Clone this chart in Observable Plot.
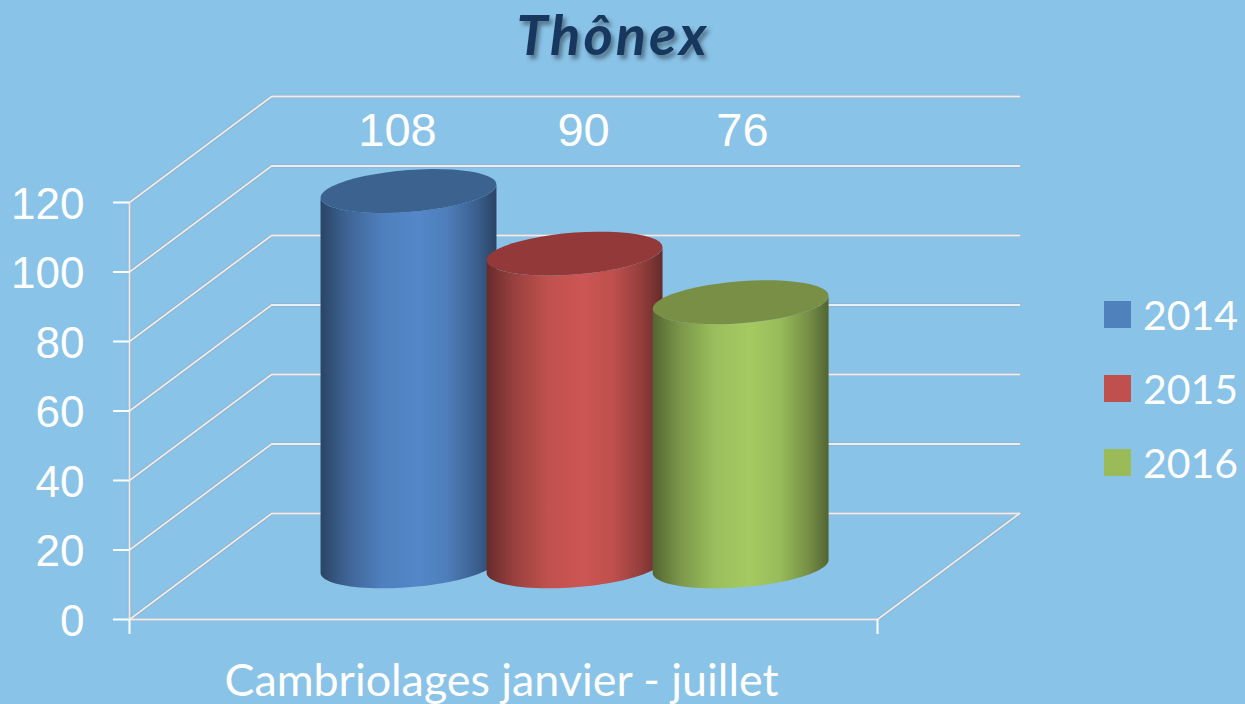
<!DOCTYPE html>
<html lang="fr">
<head>
<meta charset="utf-8">
<title>Thônex</title>
<script src="https://cdn.jsdelivr.net/npm/d3@7"></script>
<script src="https://cdn.jsdelivr.net/npm/@observablehq/plot@0.6"></script>
<style>
  html, body { margin: 0; padding: 0; width: 1245px; height: 704px; overflow: hidden; background: #8AC3E8; }
  #title { position: absolute; left: 0; top: 0; width: 1226px; height: 70px; text-align: center;
    font: italic 700 56px/normal Lato, sans-serif; letter-spacing: 3px; color: #17375E; text-shadow: 3px 4px 4px rgba(0,0,0,.4); }
  #chart { position: absolute; left: 0; top: 70px; }
  #legend { position: absolute; left: 1104px; top: 277px; }
  .lg-swatch { height: 74px; padding: 0 !important; margin: 0 !important; }
  .lg-swatch svg { margin-right: 12px !important; }
</style>
</head>
<body>
<div id="title">Thônex</div>
<div id="chart"></div>
<div id="legend"></div>
<script>
// ---- chart values ----
const years = ["2014", "2015", "2016"];
const values = [108, 90, 76];
const yTicks = [0, 20, 40, 60, 80, 100, 120];
const category = "Cambriolages janvier - juillet";

// ---- colours ----
const legendColors = ["#4F81BD", "#C0504D", "#9BBB59"];
const peakColors = ["#5487C9", "#CC5653", "#A5CA62"];
const capColors = ["#3C628F", "#93393A", "#788F45"];

// ---- 3-D projection, in scale units ----
const depthX = 0.19, depthY = 30.5;    // back wall offset
const floorY = 15.3;                   // cylinders stand mid-way into the floor
const centers = [0.373, 0.595, 0.817]; // slot centres along the x scale
const nudge = [-0.0147, 0.012, 0.0025];// data label offsets from the slot centres
const labelY = 140.7;
const a = 0.1176, b = 6.04, s = 1.87;  // ellipse half-axes and tilt

const arc = (cx, v, t0, t1) => d3.range(0, 49).map(i => {
  const t = t0 + (t1 - t0) * i / 48;
  return {x: cx + a * Math.cos(t), y: v + b * Math.sin(t) + s * Math.cos(t)};
});
const bodies = values.map((v, i) => [
  ...arc(centers[i], floorY, Math.PI, 2 * Math.PI),
  ...arc(centers[i], floorY + v, 2 * Math.PI, Math.PI)
]);
const caps = values.map((v, i) => arc(centers[i], floorY + v, 0, 2 * Math.PI));

const wall = yTicks.flatMap(v => [
  {v, x: 0, y: v}, {v, x: depthX, y: v + depthY}, {v, x: 1 + depthX, y: v + depthY}
]);
const floor = [
  {v: "front", x: 0, y: 0}, {v: "front", x: 1, y: 0}, {v: "front", x: 1 + depthX, y: depthY},
  {v: "axis", x: 0, y: 0}, {v: "axis", x: 0, y: 120}
];
const lines = [...wall, ...floor];

const gradientDefs = () => {
  const defs = d3.create("svg:defs");
  const stops = [[0, .5], [.15, .74], [.35, .94], [.55, 1], [.72, .93], [.88, .72], [1, .5]];
  peakColors.forEach((c, i) => {
    const g = defs.append("linearGradient").attr("id", "cyl" + i);
    stops.forEach(([o, k]) => {
      const p = d3.rgb(c);
      g.append("stop").attr("offset", o).attr("stop-color", d3.rgb(p.r * k, p.g * k, p.b * k).formatHex());
    });
  });
  return defs.node();
};

const plot = Plot.plot({
  width: 1245, height: 634,
  marginLeft: 129, marginRight: 368, marginTop: 132, marginBottom: 85,
  style: {background: "transparent", overflow: "visible"},
  x: {domain: [0, 1]},
  y: {domain: [0, 120]},
  marks: [
    gradientDefs,
    Plot.line(lines, {x: "x", y: "y", z: "v", stroke: "#94A9BB", strokeWidth: 3.2, curve: "linear"}),
    Plot.line(lines, {x: "x", y: "y", z: "v", stroke: "#E8EEF2", strokeWidth: 1.8, curve: "linear"}),
    Plot.ruleX([0, 1], {y1: 0, y2: -4.3, stroke: "#fff", strokeWidth: 2}),
    Plot.axisY({ticks: yTicks, tickSize: 16, text: null, color: "#fff", label: null, strokeWidth: 2}),
    Plot.axisY({ticks: yTicks, tickSize: 0, tickPadding: 45, dy: 2, color: "#fff", label: null,
      fontSize: 44, fontFamily: "Liberation Sans"}),
    Plot.axisX({ticks: [0.5], tickFormat: () => category, tickSize: 0, tickPadding: 45, dx: -2, color: "#fff", label: null,
      fontSize: 44.8, fontFamily: "Lato"}),
    ...years.flatMap((y, i) => [
      Plot.line(bodies[i], {x: "x", y: "y", fill: `url(#cyl${i})`, stroke: "none", curve: "linear"}),
      Plot.line(caps[i], {x: "x", y: "y", fill: capColors[i], stroke: "none", curve: "linear"})
    ]),
    Plot.text(values, {
      x: (d, i) => centers[i] + nudge[i], y: () => labelY, text: d => String(d),
      fill: "#fff", fontSize: 47, fontFamily: "Liberation Sans"
    })
  ]
});
document.getElementById("chart").append(plot);

document.getElementById("legend").append(Plot.legend({
  color: {domain: years, range: legendColors},
  legend: "swatches", columns: 1, swatchSize: 27, className: "lg",
  style: {color: "#fff", fontSize: "41px", fontFamily: "Lato", background: "transparent"}
}));
</script>
</body>
</html>
